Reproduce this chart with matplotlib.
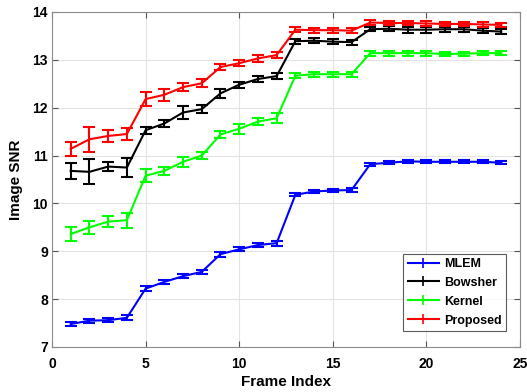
import matplotlib
matplotlib.use("Agg")
import matplotlib.pyplot as plt
from matplotlib.lines import Line2D
import numpy as np

plt.rcParams['font.family'] = ['Liberation Sans', 'DejaVu Sans']
plt.rcParams['font.weight'] = 'bold'

frames = list(range(1, 25))
labels = ["MLEM", "Bowsher", "Kernel", "Proposed"]
colors = ["#0000ff", "#000000", "#00ff00", "#ff0000"]

mlem = [7.48, 7.55, 7.56, 7.61, 8.22, 8.36, 8.48, 8.57, 8.94, 9.04, 9.13, 9.17,
        10.18, 10.25, 10.27, 10.28, 10.82, 10.85, 10.88, 10.87, 10.87, 10.87, 10.87, 10.85]
mlem_err = [0.04, 0.04, 0.04, 0.05, 0.05, 0.04, 0.04, 0.04, 0.05, 0.04, 0.04, 0.05,
            0.03, 0.03, 0.03, 0.04, 0.03, 0.03, 0.03, 0.03, 0.03, 0.03, 0.03, 0.03]
bowsher = [10.68, 10.66, 10.77, 10.75, 11.53, 11.67, 11.90, 11.97, 12.30, 12.48, 12.60, 12.66,
           13.39, 13.40, 13.38, 13.37, 13.64, 13.65, 13.63, 13.63, 13.64, 13.64, 13.61, 13.59]
bowsher_err = [0.16, 0.26, 0.10, 0.19, 0.07, 0.08, 0.13, 0.08, 0.10, 0.06, 0.06, 0.06,
               0.05, 0.05, 0.05, 0.05, 0.04, 0.05, 0.06, 0.06, 0.05, 0.05, 0.05, 0.05]
kernel = [9.36, 9.50, 9.62, 9.65, 10.58, 10.68, 10.87, 11.00, 11.44, 11.56, 11.71, 11.78,
          12.67, 12.70, 12.70, 12.70, 13.14, 13.14, 13.14, 13.14, 13.12, 13.13, 13.14, 13.14]
kernel_err = [0.14, 0.14, 0.12, 0.16, 0.13, 0.08, 0.10, 0.07, 0.08, 0.10, 0.08, 0.10,
              0.05, 0.05, 0.05, 0.05, 0.05, 0.05, 0.05, 0.05, 0.04, 0.04, 0.04, 0.04]
proposed = [11.14, 11.34, 11.41, 11.45, 12.18, 12.27, 12.43, 12.51, 12.85, 12.93, 13.03, 13.10,
            13.63, 13.62, 13.62, 13.61, 13.78, 13.77, 13.77, 13.76, 13.75, 13.75, 13.74, 13.73]
proposed_err = [0.15, 0.26, 0.13, 0.13, 0.14, 0.12, 0.08, 0.08, 0.06, 0.06, 0.08, 0.06,
                0.05, 0.05, 0.05, 0.05, 0.06, 0.05, 0.05, 0.05, 0.05, 0.05, 0.05, 0.05]

series = [(mlem, mlem_err), (bowsher, bowsher_err), (kernel, kernel_err), (proposed, proposed_err)]

fig = plt.figure(figsize=(5.27, 3.92), dpi=100)
ax = fig.add_axes([0.0987, 0.1148, 0.8880, 0.8546])

handles = []
for (vals, errs), lab, col in zip(series, labels, colors):
    ax.errorbar(frames, vals, yerr=errs, color=col, lw=1.5, elinewidth=1.5,
                capsize=4, capthick=1.5)
    handles.append(Line2D([], [], color=col, lw=1.5, marker='|', markersize=7,
                          markeredgewidth=1.2, label=lab))

ax.set_xlim(0, 25)
ax.set_ylim(7, 14)
ax.set_xticks([0, 5, 10, 15, 20, 25])
ax.set_yticks(range(7, 15))
ax.grid(True, color='#e3e3e3', lw=0.8)
ax.set_axisbelow(True)
for s in ax.spines.values():
    s.set_color('#8c8c8c')
    s.set_linewidth(0.8)
ax.tick_params(direction='in', length=4, color='#555555', labelsize=10, pad=3,
               top=True, right=True, labeltop=False, labelright=False)
ax.tick_params(axis='x', pad=7)
for t in ax.get_xticklabels() + ax.get_yticklabels():
    t.set_fontweight('bold')
ax.set_xlabel("Frame Index", fontsize=11, fontweight='bold', labelpad=3)
ax.set_ylabel("Image SNR", fontsize=11, fontweight='bold', labelpad=7)

leg = ax.legend(handles=handles, loc='lower right', bbox_to_anchor=(0.970, 0.048),
                borderaxespad=0.0, fontsize=9, frameon=True, fancybox=False,
                edgecolor='#333333', borderpad=0.35, handlelength=2.5,
                handletextpad=0.4, labelspacing=0.55, numpoints=1)
leg.get_frame().set_linewidth(0.8)
for t in leg.get_texts():
    t.set_fontweight('bold')

fig.savefig("out.png", dpi=100)
